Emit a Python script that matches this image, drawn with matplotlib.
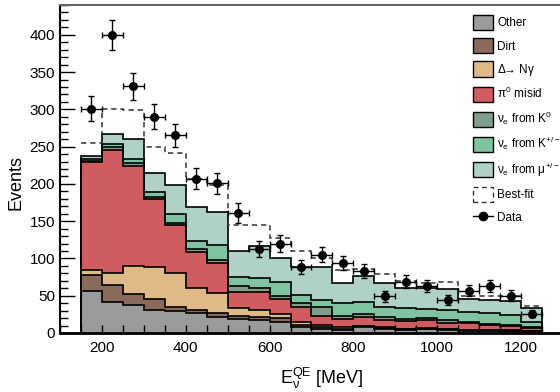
import numpy as np
import matplotlib
matplotlib.use('Agg')
import matplotlib.pyplot as plt
from matplotlib.patches import Patch
from matplotlib.lines import Line2D
from matplotlib.ticker import MultipleLocator

plt.rcParams['font.family'] = ['Liberation Sans', 'DejaVu Sans']
plt.rcParams['mathtext.fontset'] = 'custom'
plt.rcParams['mathtext.rm'] = 'Liberation Sans'
plt.rcParams['mathtext.it'] = 'Liberation Sans'
plt.rcParams['mathtext.bf'] = 'Liberation Sans:bold'

# bin edges in MeV (50 MeV bins)
edges = [150, 200, 250, 300, 350, 400, 450, 500, 550, 600, 650, 700,
         750, 800, 850, 900, 950, 1000, 1050, 1100, 1150, 1200, 1250]

# stacked backgrounds, bottom to top
other = [57, 41, 38, 31, 30, 26.5, 22, 18.5, 17.5, 15, 8, 5, 4, 8, 5, 4, 5, 4, 3, 3, 2.5, 2]
dirt = [21, 23, 14, 14, 5, 4.5, 4.5, 4, 4.5, 5, 3, 3, 2, 1.5, 1.5, 1, 1, 1, 1, 0.5, 0.5, 0.5]
delta = [6, 17, 38.5, 43, 46, 29, 27.5, 11, 9, 5, 4, 2.5, 1.5, 0.5, 1, 0.5, 0.5, 0.5, 0.5, 0.5, 0.5, 0.5]
pi0 = [145, 165, 134, 92, 63.5, 48.5, 39.5, 22, 24.5, 20, 20, 12.5, 11.5, 12, 10, 10.5, 11, 8.5, 8.5, 6.3, 6, 3.3]
nue_k0 = [2, 3, 3.5, 2.5, 3, 4, 4.5, 7, 4.5, 5, 5, 11.5, 3.5, 3.5, 3.5, 2.5, 2, 3.5, 2, 1.5, 1.5, 1.5]
nue_kpm = [2, 5, 6, 6, 11.5, 10.5, 20, 13, 14, 19, 11, 9.5, 17.5, 16.5, 14, 14.5, 12.5, 13.5, 13.5, 14.5, 13.5, 6.5]
nue_mu = [5, 13, 26, 26, 39, 45.5, 44, 34, 43, 31, 38, 44, 26.5, 35, 32.5, 27, 29, 27.5, 16.5, 17.5, 19, 19]

best_fit = [255, 301, 299, 250, 241, 207, 198, 145, 145, 127, 110, 100,
            85, 86, 79, 70, 67, 68, 50, 49, 50, 36]

data = [301, 400, 331, 290, 265, 207, 201, 161, 113, 120, 89, 105,
        94, 83, 49, 69, 63, 44, 57, 63, 50, 26]
data_err = [17, 20, 18, 17, 16, 14, 14, 13, 11, 11, 9.4, 10,
            9.7, 9.1, 7, 8.3, 7.9, 6.6, 7.5, 7.9, 7.1, 5.1]

labels = ['Other', 'Dirt', r'$\Delta\!\!\rightarrow\!$ N$\gamma$', r'$\pi^{0}$ misid',
          r'$\nu_{e}$ from K$^{0}$', r'$\nu_{e}$ from K$^{+/-}$', r'$\nu_{e}$ from $\mu^{+/-}$']
colors = ['#9b9b9b', '#8a6a5a', '#dfb988', '#d05c5f', '#7f9f89', '#7fc3a0', '#afd1c6']

edges = np.array(edges)
centers = 0.5 * (edges[:-1] + edges[1:])
stack = np.cumsum(np.array([other, dirt, delta, pi0, nue_k0, nue_kpm, nue_mu]), axis=0)

fig = plt.figure(figsize=(5.6, 3.92), dpi=100)
ax = fig.add_axes([60/560, 59/392, 500/560, 328/392])

base = np.zeros(len(centers))
for top, c in zip(stack, colors):
    ax.stairs(top, edges, baseline=base, fill=True, color=c, lw=0, zorder=1)
    base = top
for top in stack:
    ax.stairs(top, edges, baseline=0, color='black', lw=1.2, zorder=2)

ax.stairs(best_fit, edges, baseline=None, color='#333333', lw=1.1,
          linestyle=(0, (3.5, 2.5)), zorder=3)

ax.errorbar(centers, data, yerr=data_err, xerr=25, fmt='o', color='black',
            ms=5.5, elinewidth=1, capsize=2.2, capthick=1, zorder=5)

ax.set_xlim(100, 1293)
ax.set_ylim(0, 440)
ax.xaxis.set_major_locator(MultipleLocator(200))
ax.xaxis.set_minor_locator(MultipleLocator(50))
ax.yaxis.set_major_locator(MultipleLocator(50))
ax.yaxis.set_minor_locator(MultipleLocator(10))
ax.tick_params(axis='both', which='both', direction='in', width=1, labelsize=11)
ax.tick_params(axis='y', which='major', length=11)
ax.tick_params(axis='y', which='minor', length=5.5)
ax.tick_params(axis='x', which='both', length=6)
ax.tick_params(axis='x', pad=6)

ax.spines['right'].set_visible(False)
ax.spines['top'].set_color('#666666')
ax.spines['top'].set_linewidth(1.5)
ax.spines['left'].set_linewidth(1.5)
ax.spines['bottom'].set_linewidth(2)

fig.text(16/560, 1 - 182/392, 'Events', rotation=90, ha='center', va='center', fontsize=13)
fig.text(322/560, 1 - 378/392, r'E$_{\nu}^{\rm QE}$ [MeV]', ha='center', va='center', fontsize=13)

handles = [Patch(facecolor=c, edgecolor='black', lw=1) for c in colors]
handles.append(Patch(facecolor='none', edgecolor='#333333', lw=1, linestyle=(0, (3.5, 2.5))))
handles.append(Line2D([], [], color='black', marker='o', ms=6, lw=1))
ax.legend(handles, labels + ['Best-fit', 'Data'], loc='upper left',
          bbox_to_anchor=(473/560, 1 - 15/392), bbox_transform=fig.transFigure,
          frameon=False, fontsize=8.5, borderpad=0, borderaxespad=0,
          handlelength=1.7, handleheight=1.6, handletextpad=0.34, labelspacing=0.68)

fig.savefig('out.png', dpi=100)
